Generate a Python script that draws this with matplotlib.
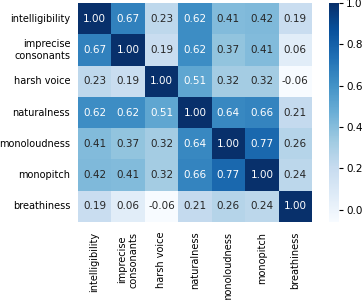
import numpy as np
import matplotlib
matplotlib.use("Agg")
import matplotlib.pyplot as plt
import seaborn as sns

labels = ["intelligibility", "imprecise\nconsonants", "harsh voice", "naturalness",
          "monoloudness", "monopitch", "breathiness"]
corr = np.array([
    [1.00, 0.67, 0.23, 0.62, 0.41, 0.42, 0.19],
    [0.67, 1.00, 0.19, 0.62, 0.37, 0.41, 0.06],
    [0.23, 0.19, 1.00, 0.51, 0.32, 0.32, -0.06],
    [0.62, 0.62, 0.51, 1.00, 0.64, 0.66, 0.21],
    [0.41, 0.37, 0.32, 0.64, 1.00, 0.77, 0.26],
    [0.42, 0.41, 0.32, 0.66, 0.77, 1.00, 0.24],
    [0.19, 0.06, -0.06, 0.21, 0.26, 0.24, 1.00],
])

fig = plt.figure(figsize=(3.62, 3.0), dpi=100)
ax = fig.add_axes([0.215, 0.26, 0.647, 0.73])
cax = fig.add_axes([0.909, 0.26, 0.028, 0.73])
sns.heatmap(corr, ax=ax, cbar_ax=cax, cmap="Blues", annot=True, fmt=".2f",
            annot_kws={"fontsize": 7.5}, xticklabels=labels, yticklabels=labels)
ax.tick_params(axis="x", labelsize=7, length=0, pad=7)
ax.tick_params(axis="y", labelsize=7, length=0, pad=5.5)
ax.set_xticklabels(labels, rotation=90)
ax.set_yticklabels(labels, rotation=0)
cax.tick_params(labelsize=7.5, length=3, pad=2)
cax.set_yticks([0.0, 0.2, 0.4, 0.6, 0.8, 1.0])
fig.savefig("out.png", dpi=100)
